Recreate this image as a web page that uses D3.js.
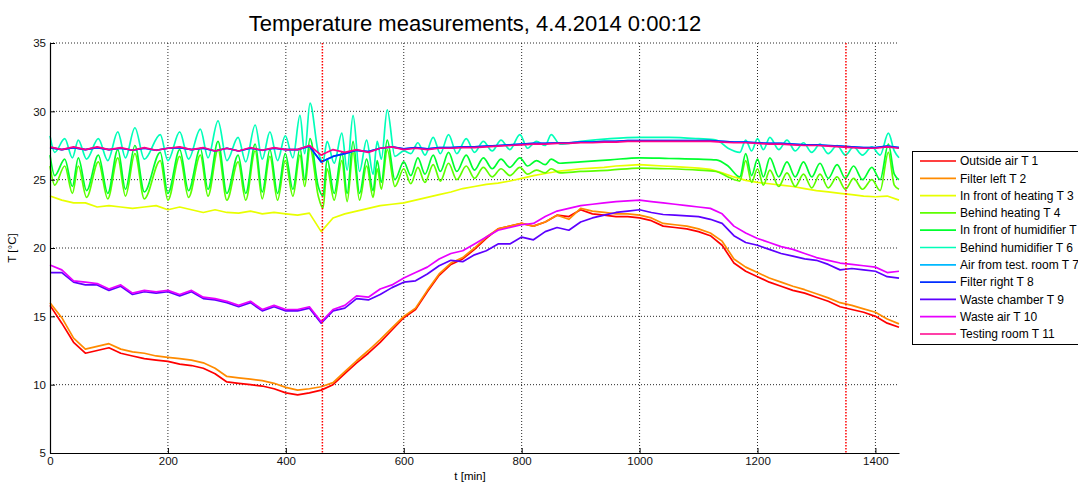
<!DOCTYPE html>
<html>
<head>
<meta charset="utf-8">
<script src="https://cdn.jsdelivr.net/npm/d3@7"></script>
<style>
  body { margin: 0; background: #fff; }
  svg { display: block; font-family: "Liberation Sans", Arial, sans-serif; }
</style>
</head>
<body>
<script type="text/javascript">
    const Width = 1078;
    const Height = 482;

    // legend names, T1 ... T11
    const names = ["Outside air T 1", "Filter left T 2", "In front of heating T 3",
        "Behind heating T 4", "In front of humidifier T 5", "Behind humidifier T 6",
        "Air from test. room T 7", "Filter right T 8", "Waste chamber T 9",
        "Waste air T 10", "Testing room T 11"];
    const colors = ["#ff0000", "#ff8b00", "#e8ff00", "#5dff00", "#00ff2e", "#00ffb9",
        "#00b9ff", "#002eff", "#5d00ff", "#e800ff", "#ff008b"];

    const xTicks = [0, 200, 400, 600, 800, 1000, 1200, 1400];
    const yTicks = [5, 10, 15, 20, 25, 30, 35];
    const markers = [462, 1350]; // red dotted lines

    // time [min] for the slowly changing sensors
    const tSmooth = [0, 20, 40, 60, 80, 100, 120, 140, 160, 180, 200, 220, 240, 260, 280, 300,
        320, 340, 360, 380, 400, 420, 440, 460, 480, 500, 520, 540, 560, 580, 600, 620, 640,
        660, 680, 700, 720, 740, 760, 780, 800, 820, 840, 860, 880, 900, 920, 940, 960, 980,
        1000, 1020, 1040, 1060, 1080, 1100, 1120, 1140, 1160, 1180, 1200, 1220, 1240, 1260,
        1280, 1300, 1320, 1340, 1360, 1380, 1400, 1420, 1440];

    const t1 = [15.8, 14.5, 13.1, 12.3, 12.5, 12.7, 12.3, 12.1, 11.9, 11.8, 11.7, 11.5, 11.4,
        11.2, 10.8, 10.2, 10.1, 10.0, 9.9, 9.7, 9.4, 9.25, 9.4, 9.6, 10.0, 10.8, 11.6, 12.3,
        13.1, 14.0, 14.9, 15.5, 16.8, 18.0, 18.8, 19.2, 19.9, 20.7, 21.4, 21.6, 21.8, 21.6,
        21.9, 22.4, 22.3, 22.8, 22.5, 22.4, 22.3, 22.3, 22.2, 22.0, 21.6, 21.5, 21.4, 21.2,
        20.9, 20.2, 18.9, 18.3, 17.9, 17.5, 17.2, 16.9, 16.7, 16.4, 16.1, 15.7, 15.5, 15.3,
        15.0, 14.5, 14.2];
    const t2 = [16.0, 14.9, 13.4, 12.6, 12.8, 13.0, 12.6, 12.4, 12.3, 12.1, 12.0, 11.9, 11.8,
        11.6, 11.2, 10.6, 10.5, 10.4, 10.3, 10.1, 9.8, 9.6, 9.7, 9.85, 10.15, 10.95, 11.75,
        12.5, 13.3, 14.15, 15.0, 15.6, 16.9, 18.1, 18.9, 19.3, 20.0, 20.8, 21.4, 21.6, 21.8,
        21.6, 21.9, 22.4, 22.1, 22.9, 22.7, 22.6, 22.5, 22.5, 22.4, 22.2, 21.8, 21.7, 21.6,
        21.4, 21.1, 20.5, 19.2, 18.6, 18.2, 17.8, 17.5, 17.2, 16.95, 16.65, 16.35, 16.0, 15.8,
        15.55, 15.3, 14.8, 14.45];
    const t3 = [23.8, 23.5, 23.3, 23.3, 23.0, 23.1, 23.0, 22.9, 23.0, 23.1, 22.8, 23.0, 22.8,
        22.6, 22.8, 22.6, 22.55, 22.7, 22.5, 22.6, 22.5, 22.4, 22.55, 21.2, 22.2, 22.5, 22.7,
        22.9, 23.1, 23.2, 23.3, 23.5, 23.7, 23.9, 24.1, 24.35, 24.5, 24.65, 24.75, 24.9, 25.1,
        25.3, 25.45, 25.6, 25.7, 25.8, 25.85, 25.9, 26.0, 26.05, 26.1, 26.05, 26.0, 25.95,
        25.9, 25.85, 25.75, 25.5, 25.2, 24.95, 24.8, 24.7, 24.6, 24.5, 24.35, 24.2, 24.1,
        24.0, 23.9, 23.8, 23.75, 23.8, 23.5];
    const t7 = [27.35, 27.2, 27.35, 27.2, 27.35, 27.2, 27.3, 27.15, 27.3, 27.15, 27.3, 27.35,
        27.2, 27.3, 27.1, 27.3, 27.1, 27.3, 27.15, 27.3, 27.2, 27.2, 27.45, 26.3, 26.7, 26.9,
        27.15, 27.05, 27.3, 27.4, 27.25, 27.35, 27.25, 27.35, 27.35, 27.4, 27.4, 27.45, 27.5,
        27.55, 27.6, 27.65, 27.65, 27.7, 27.7, 27.75, 27.75, 27.8, 27.8, 27.85, 27.85, 27.85,
        27.85, 27.85, 27.85, 27.85, 27.85, 27.8, 27.75, 27.75, 27.7, 27.65, 27.65, 27.6, 27.55,
        27.55, 27.5, 27.45, 27.4, 27.35, 27.35, 27.45, 27.35];
    const t8 = [27.35, 27.2, 27.35, 27.2, 27.35, 27.2, 27.3, 27.15, 27.3, 27.15, 27.3, 27.35,
        27.2, 27.3, 27.1, 27.3, 27.1, 27.3, 27.15, 27.3, 27.2, 27.2, 27.45, 26.3, 26.7, 26.9,
        27.15, 27.05, 27.3, 27.4, 27.25, 27.35, 27.25, 27.35, 27.35, 27.4, 27.4, 27.45, 27.5,
        27.55, 27.6, 27.65, 27.65, 27.7, 27.7, 27.75, 27.75, 27.8, 27.8, 27.85, 27.85, 27.85,
        27.85, 27.85, 27.85, 27.85, 27.85, 27.8, 27.75, 27.75, 27.7, 27.65, 27.65, 27.6, 27.55,
        27.55, 27.5, 27.45, 27.4, 27.35, 27.35, 27.45, 27.35];
    const t9 = [18.2, 18.2, 17.5, 17.3, 17.3, 16.9, 17.2, 16.6, 16.8, 16.7, 16.8, 16.5, 16.8,
        16.3, 16.2, 16.0, 15.7, 16.0, 15.4, 15.7, 15.4, 15.4, 15.6, 14.5, 15.4, 15.6, 16.3,
        16.2, 16.6, 17.1, 17.5, 17.6, 18.1, 18.7, 19.1, 19.0, 19.5, 19.8, 20.3, 20.3, 20.8,
        20.6, 21.2, 21.5, 21.3, 21.9, 22.2, 22.4, 22.6, 22.7, 22.8, 22.6, 22.45, 22.4, 22.35,
        22.3, 22.1, 21.8, 20.9, 20.4, 20.2, 19.9, 19.6, 19.4, 19.2, 19.1, 18.8, 18.4, 18.5,
        18.4, 18.3, 17.9, 17.8];
    const t10 = [18.75, 18.4, 17.6, 17.5, 17.4, 17.0, 17.3, 16.7, 16.9, 16.8, 16.9, 16.6, 16.9,
        16.4, 16.3, 16.1, 15.8, 16.1, 15.5, 15.8, 15.5, 15.5, 15.7, 14.6, 15.5, 15.8, 16.5,
        16.4, 17.0, 17.3, 17.8, 18.2, 18.6, 19.2, 19.6, 19.8, 20.3, 20.8, 21.3, 21.5, 21.7,
        21.8, 22.3, 22.7, 22.9, 23.1, 23.2, 23.3, 23.4, 23.45, 23.5, 23.4, 23.3, 23.2, 23.1,
        23.0, 22.9, 22.5, 21.6, 21.1, 20.7, 20.4, 20.1, 19.9, 19.6, 19.3, 19.1, 18.9, 18.8,
        18.7, 18.6, 18.2, 18.3];
    const t11 = [27.4, 27.2, 27.4, 27.2, 27.4, 27.2, 27.35, 27.15, 27.35, 27.15, 27.3, 27.4,
        27.2, 27.35, 27.1, 27.3, 27.1, 27.35, 27.15, 27.35, 27.2, 27.2, 27.5, 26.8, 27.2, 27.0,
        27.2, 27.0, 27.3, 27.4, 27.2, 27.3, 27.2, 27.3, 27.3, 27.35, 27.35, 27.4, 27.45, 27.5,
        27.55, 27.6, 27.6, 27.65, 27.65, 27.7, 27.7, 27.75, 27.75, 27.8, 27.8, 27.8, 27.8,
        27.8, 27.8, 27.8, 27.8, 27.75, 27.7, 27.7, 27.65, 27.6, 27.6, 27.55, 27.5, 27.5, 27.45,
        27.4, 27.35, 27.3, 27.3, 27.4, 27.3];

    // time [min] for the oscillating sensors (peaks and troughs)
    const tOsc = [0, 8, 25, 38, 48, 62, 82, 98, 115, 128, 144, 160, 187, 200, 220, 235, 255,
        268, 285, 300, 319, 332, 348, 360, 373, 386, 399, 412, 424, 432, 441, 455, 463, 470,
        482, 495, 504, 514, 525, 537, 548, 555, 562, 572, 585, 600, 612, 624, 636, 650, 662,
        676, 690, 706, 720, 735, 750, 765, 780, 797, 810, 825, 840, 850, 865, 900, 950, 1000,
        1050, 1100, 1130, 1150, 1170, 1180, 1190, 1200, 1210, 1221, 1236, 1250, 1264, 1278,
        1292, 1306, 1320, 1335, 1349, 1363, 1378, 1394, 1408, 1422, 1432, 1440];

    const t4 = [26.0, 24.6, 26.0, 24.0, 26.0, 23.7, 26.3, 23.6, 26.6, 23.8,
        26.9, 23.6, 26.4, 23.5, 26.7, 23.7, 26.8, 23.8, 27.2, 23.5,
        26.3, 23.5, 27.1, 23.6, 26.7, 23.5, 26.4, 23.8, 26.8, 24.5,
        27.3, 23.8, 22.9, 25.8, 23.5, 26.4, 23.4, 27.0, 23.5, 26.0,
        23.7, 25.8, 24.3, 27.2, 24.5, 25.8, 24.7, 25.9, 24.8, 26.1,
        24.9, 26.2, 25.0, 26.0, 25.1, 25.9, 25.2, 25.8, 25.3, 25.9,
        25.4, 25.7, 25.5, 25.8, 25.5, 25.6, 25.7, 25.85, 25.8, 25.7,
        25.6, 25.2, 24.9, 26.4, 24.8, 25.8, 24.6, 25.7, 24.5, 25.5,
        24.5, 25.4, 24.4, 25.4, 24.4, 25.2, 24.3, 25.1, 24.3, 25.0,
        24.2, 27.0, 24.6, 24.3];
    const t5 = [26.8, 25.3, 26.5, 24.5, 26.6, 24.2, 26.8, 24.0, 27.2, 24.3,
        27.5, 24.1, 27.0, 24.0, 27.2, 24.2, 27.3, 24.3, 27.8, 24.0,
        26.8, 24.0, 27.6, 24.1, 27.2, 24.0, 26.9, 24.3, 27.3, 25.0,
        28.0, 24.5, 23.8, 26.5, 24.0, 27.0, 24.0, 27.8, 24.0, 26.5,
        24.2, 26.4, 24.8, 27.9, 25.0, 26.3, 25.3, 26.6, 25.4, 26.8,
        25.6, 27.0, 25.6, 26.8, 25.7, 26.6, 25.8, 26.5, 25.9, 26.6,
        26.0, 26.4, 26.1, 26.5, 26.2, 26.3, 26.45, 26.6, 26.55, 26.5,
        26.45, 26.0, 25.2, 26.9, 25.3, 26.5, 25.2, 26.6, 25.2, 26.3,
        25.2, 26.3, 25.2, 26.2, 25.1, 26.1, 25.1, 26.0, 25.0, 25.9,
        25.0, 27.6, 25.4, 25.0];
    const t6 = [28.2, 27.0, 28.0, 26.6, 27.9, 26.5, 28.0, 26.4, 28.5, 26.6,
        28.8, 26.5, 28.3, 26.4, 28.5, 26.5, 28.7, 26.6, 29.3, 26.4,
        28.1, 26.3, 29.0, 26.5, 28.5, 26.4, 28.2, 26.6, 29.7, 26.9,
        30.6, 27.0, 26.3, 27.8, 26.2, 28.4, 25.7, 29.7, 25.6, 27.9,
        25.4, 27.8, 26.5, 30.1, 26.7, 27.1, 26.9, 27.7, 26.8, 28.1,
        26.9, 28.3, 26.9, 28.0, 27.0, 27.8, 27.1, 27.9, 27.2, 28.3,
        27.3, 27.8, 27.5, 28.3, 27.6, 27.8, 28.0, 28.1, 28.1, 28.0,
        27.9, 27.3, 27.0, 27.9, 27.1, 28.0, 27.2, 28.1, 27.2, 27.9,
        27.1, 27.7, 27.0, 27.6, 26.9, 27.5, 26.8, 27.4, 26.8, 27.4,
        26.8, 28.4, 27.1, 26.6];

    const series = [
        { t: tSmooth, v: t1 }, { t: tSmooth, v: t2 }, { t: tSmooth, v: t3 },
        { t: tOsc, v: t4 }, { t: tOsc, v: t5 }, { t: tOsc, v: t6 },
        { t: tSmooth, v: t7 }, { t: tSmooth, v: t8 }, { t: tSmooth, v: t9 },
        { t: tSmooth, v: t10 }, { t: tSmooth, v: t11 }
    ];

    const svg = d3.select("body")
        .append("svg")
        .attr("width", Width)
        .attr("height", Height);

    const x = d3.scaleLinear().domain([0, 1440]).range([50, 899]);
    const y = d3.scaleLinear().domain([5, 35]).range([453, 43]);

    // grid
    svg.append("g").selectAll("line")
        .data(xTicks.slice(1))
        .enter().append("line")
        .attr("x1", d => x(d)).attr("x2", d => x(d))
        .attr("y1", y(35)).attr("y2", y(5))
        .attr("stroke", "#111").attr("stroke-width", 0.9)
        .attr("stroke-dasharray", "1,2");
    svg.append("g").selectAll("line")
        .data(yTicks.slice(1))
        .enter().append("line")
        .attr("x1", x(0)).attr("x2", x(1440))
        .attr("y1", d => y(d)).attr("y2", d => y(d))
        .attr("stroke", "#111").attr("stroke-width", 0.9)
        .attr("stroke-dasharray", "1,2");

    // lines: oscillating sensors rounded, the rest straight segments
    const lineSmooth = d3.line()
        .x(d => x(d[0]))
        .y(d => y(d[1]));
    const lineOsc = d3.line()
        .x(d => x(d[0]))
        .y(d => y(d[1]))
        .curve(d3.curveMonotoneX);

    svg.append("g").selectAll("path")
        .data(series)
        .enter().append("path")
        .attr("d", s => (s.t === tOsc ? lineOsc : lineSmooth)(s.t.map((t, i) => [t, s.v[i]])))
        .attr("fill", "none")
        .attr("stroke", (s, i) => colors[i])
        .attr("stroke-width", 1.7)
        .attr("stroke-linejoin", "round");

    // red markers
    svg.append("g").selectAll("line")
        .data(markers)
        .enter().append("line")
        .attr("x1", d => x(d)).attr("x2", d => x(d))
        .attr("y1", y(35)).attr("y2", y(5))
        .attr("stroke", "#ff0000").attr("stroke-width", 1.5)
        .attr("stroke-dasharray", "1.5,1.5");

    // axes
    svg.append("g")
        .attr("transform", "translate(0," + y(5) + ")")
        .call(d3.axisBottom(x).tickValues(xTicks).tickFormat(d3.format("d"))
            .tickSize(-5).tickSizeOuter(0).tickPadding(4));
    svg.append("g")
        .attr("transform", "translate(" + x(0) + ",0)")
        .call(d3.axisLeft(y).tickValues(yTicks)
            .tickSize(-5).tickSizeOuter(0).tickPadding(4));
    svg.selectAll(".tick text")
        .attr("font-size", 11.5)
        .attr("font-family", "Liberation Sans, Arial, sans-serif")
        .attr("fill", "#111");
    svg.selectAll(".domain").attr("stroke", "#000").attr("stroke-width", 1.2);
    svg.selectAll(".tick line").attr("stroke", "#000");

    // title and labels
    svg.append("text")
        .attr("x", 475).attr("y", 31)
        .attr("text-anchor", "middle")
        .attr("font-size", 22)
        .text("Temperature measurements, 4.4.2014 0:00:12");
    svg.append("text")
        .attr("x", 470).attr("y", 480)
        .attr("text-anchor", "middle")
        .attr("font-size", 11.5)
        .text("t [min]");
    svg.append("text")
        .attr("transform", "translate(16,248) rotate(-90)")
        .attr("text-anchor", "middle")
        .attr("font-size", 11.5)
        .text("T [°C]");

    // legend
    const legend = svg.append("g");
    legend.append("rect")
        .attr("x", 912.5).attr("y", 151.5)
        .attr("width", 200).attr("height", 193)
        .attr("fill", "#fff").attr("stroke", "#000").attr("stroke-width", 1);
    const rows = legend.selectAll("g.row")
        .data(names)
        .enter().append("g")
        .attr("class", "row")
        .attr("transform", (d, i) => "translate(0," + (161 + i * 17.3) + ")");
    rows.append("line")
        .attr("x1", 920).attr("x2", 956)
        .attr("stroke", (d, i) => colors[i])
        .attr("stroke-width", 1.7);
    rows.append("text")
        .attr("x", 960).attr("dy", "0.35em")
        .attr("font-size", 12)
        .text(d => d);
</script>
</body>
</html>
